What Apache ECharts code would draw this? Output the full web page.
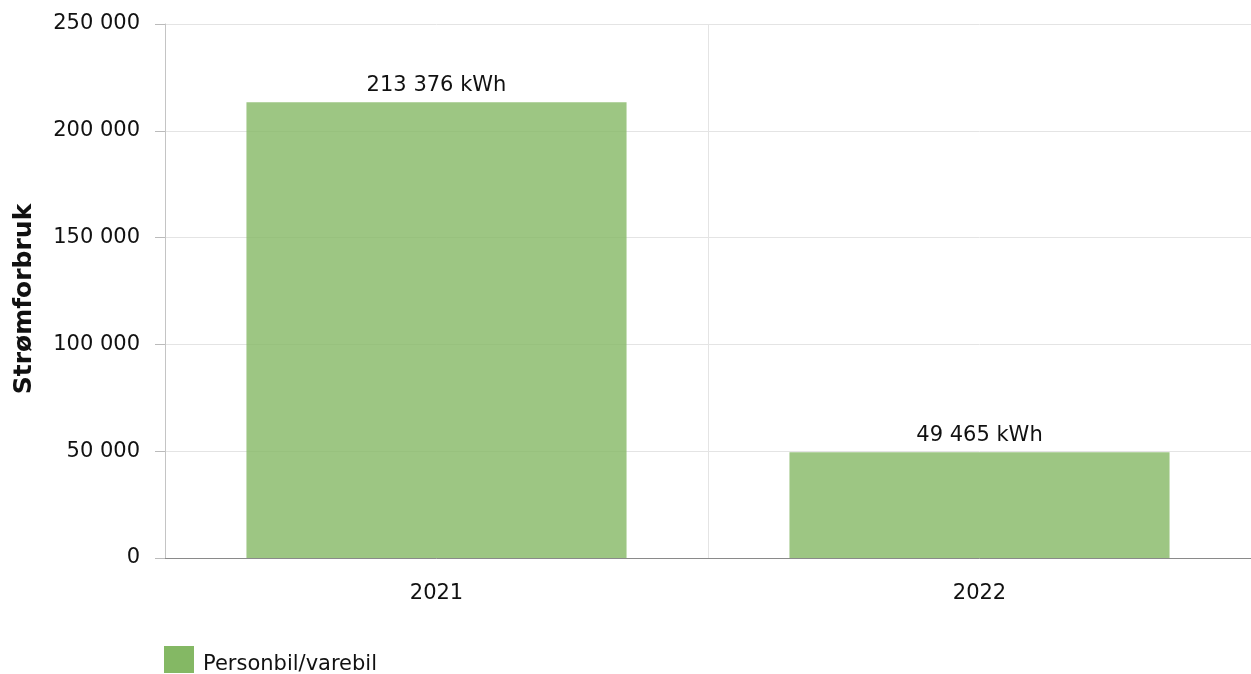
<!DOCTYPE html>
<html>
<head>
<meta charset="utf-8">
<script src="https://cdn.jsdelivr.net/npm/echarts@6/dist/echarts.min.js"></script>
<style>
  html, body { margin: 0; padding: 0; background: #fff; }
  #chart { width: 1251px; height: 674px; }
</style>
</head>
<body>
<div id="chart"></div>
<script>
const years = ["2021", "2022"];
const consumption = [213376, 49465];
const seriesName = "Personbil/varebil";
const yTicks = [0, 50000, 100000, 150000, 200000, 250000];

const fmt = (v) => String(v).replace(/\B(?=(\d{3})+(?!\d))/g, " ");
const font = "DejaVu Sans, Verdana, sans-serif";
const fs = 21;

const chart = echarts.init(document.getElementById("chart"));

chart.setOption({
	animation: false,
	textStyle: { fontFamily: font },
	grid: { left: 165, right: -2, top: 24, bottom: 116 },
	legend: {
		left: 159,
		top: 641,
		icon: "rect",
		itemWidth: 30,
		itemHeight: 27,
		itemGap: 10,
		formatter: (name) => "{t|" + name + "}",
		textStyle: {
			fontSize: fs,
			color: "#111",
			fontFamily: font,
			rich: { t: { fontSize: fs, color: "#111", fontFamily: font, padding: [10, 0, 0, 4] } },
		},
		data: [{ name: seriesName, itemStyle: { color: "#84b864" } }],
	},
	xAxis: {
		type: "category",
		data: years,
		axisLine: { lineStyle: { color: "#8a8a8a", width: 1 } },
		axisTick: { alignWithLabel: true, length: 9, lineStyle: { color: "#aaa" } },
		axisLabel: { fontSize: fs, color: "#111", margin: 25, fontFamily: font },
		splitLine: { show: true, lineStyle: { color: "#e4e4e4" } },
	},
	yAxis: {
		type: "value",
		min: yTicks[0],
		max: yTicks[yTicks.length - 1],
		interval: yTicks[1] - yTicks[0],
		name: "Strømforbruk",
		nameLocation: "middle",
		nameGap: 128,
		nameTextStyle: { fontSize: 25, fontWeight: "bold", color: "#111", fontFamily: font, padding: [0, 16, 0, 0] },
		axisLine: { show: true, lineStyle: { color: "#c4c4c4", width: 1 } },
		axisTick: { show: true, length: 10, lineStyle: { color: "#bbb" } },
		axisLabel: { fontSize: fs, color: "#111", margin: 25, fontFamily: font, formatter: fmt },
		splitLine: { lineStyle: { color: "#e4e4e4" } },
	},
	series: [
		{
			name: seriesName,
			type: "bar",
			data: consumption,
			barWidth: "70%",
			itemStyle: { color: "rgba(132,184,100,0.8)" },
			label: {
				show: true,
				position: "top",
				distance: 6,
				fontSize: fs,
				color: "#111",
				fontFamily: font,
				formatter: (p) => fmt(p.value) + " kWh",
			},
		},
	],
});
</script>
</body>
</html>
